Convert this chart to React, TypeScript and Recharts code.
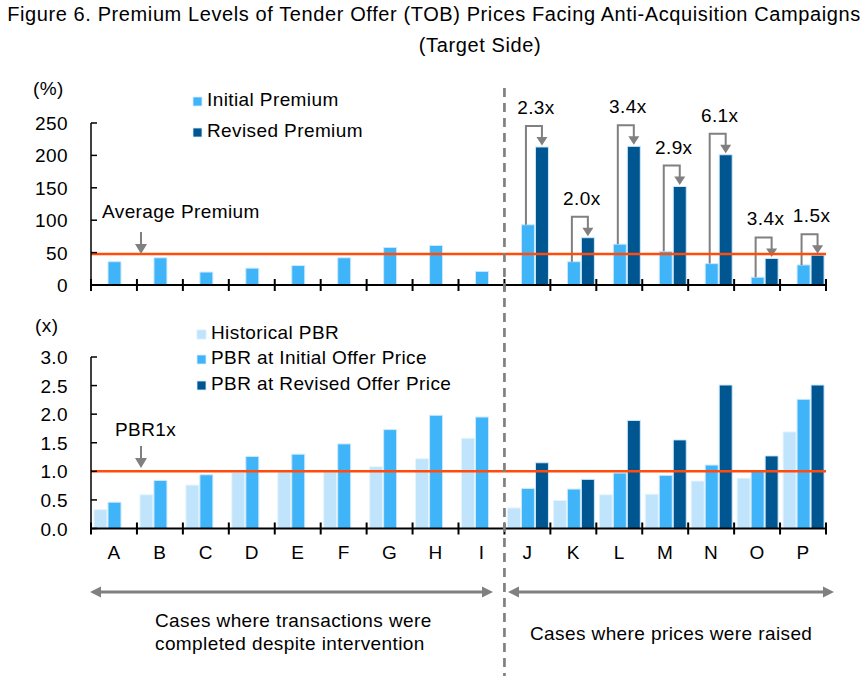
import { BarChart, Bar, XAxis, YAxis, ReferenceLine } from "recharts"

const categories = ["A", "B", "C", "D", "E", "F", "G", "H", "I", "J", "K", "L", "M", "N", "O", "P"]

// premium over market price (%)
const initialPremium = [36, 42, 20, 26, 30, 42, 58, 61, 21, 93, 36, 63, 52, 33, 12, 31]
const revisedPremium = [null, null, null, null, null, null, null, null, null, 213, 73, 214, 152, 201, 41, 46]
const averagePremium = 48

// price-to-book ratio (x)
const historicalPbr = [0.33, 0.59, 0.76, 0.98, 0.99, 0.99, 1.08, 1.22, 1.58, 0.36, 0.49, 0.59, 0.6, 0.83, 0.88, 1.69]
const initialPbr = [0.46, 0.84, 0.94, 1.26, 1.3, 1.48, 1.73, 1.98, 1.95, 0.7, 0.69, 0.97, 0.93, 1.11, 1.0, 2.26]
const revisedPbr = [null, null, null, null, null, null, null, null, null, 1.15, 0.86, 1.89, 1.55, 2.51, 1.27, 2.51]
const pbrBase = 1

const premiumTicks = [0, 50, 100, 150, 200, 250]
const pbrTicks = [0, 0.5, 1, 1.5, 2, 2.5, 3]

const premiumData = categories.map((name, i) => ({
  name,
  initial: initialPremium[i],
  revised: revisedPremium[i],
}))

const pbrData = categories.map((name, i) => ({
  name,
  historical: historicalPbr[i],
  initial: initialPbr[i],
  revised: revisedPbr[i],
}))

const FONT = '"Liberation Sans", Arial, sans-serif'
const LIGHT = "#c0e4fb"
const MID = "#40b4f8"
const DARK = "#005691"
const ORANGE = "#ff4c0c"
const GREY = "#808080"

const PLOT_LEFT = 91
const PLOT_RIGHT = 826
const STEP = (PLOT_RIGHT - PLOT_LEFT) / categories.length
const BAR_GAP = 1
const SPLIT_X = PLOT_LEFT + 9 * STEP

const textStyle = { fontFamily: FONT, fontSize: 19, letterSpacing: 0.4, fill: "#000" }
const titleStyle = { ...textStyle, fontSize: 20, letterSpacing: 0.6 }

function CategoryTick(props: any) {
  const { x, y, payload, index, showLabel } = props
  const left = x - STEP / 2
  return (
    <g>
      <line x1={left} x2={left} y1={y - 6} y2={y + 6} stroke="#000" strokeWidth={2} />
      {index === categories.length - 1 && (
        <line x1={x + STEP / 2} x2={x + STEP / 2} y1={y - 6} y2={y + 6} stroke="#000" strokeWidth={2} />
      )}
      {showLabel && (
        <text x={x} y={y + 30} textAnchor="middle" style={textStyle}>
          {payload.value}
        </text>
      )}
    </g>
  )
}

function ValueTick(props: any) {
  const { x, y, payload, digits } = props
  return (
    <g>
      <line x1={x} x2={x + 6} y1={y} y2={y} stroke="#000" strokeWidth={1.5} />
      <text x={x - 23} y={y + 7} textAnchor="end" style={textStyle}>
        {digits ? Number(payload.value).toFixed(digits) : payload.value}
      </text>
    </g>
  )
}

// revised bar plus the bracket arrow from the initial bar and the multiple label
function RevisedBar(props: any) {
  const { x, y, width, height, payload } = props
  if (payload.revised == null || !height) return null
  const bottom = y + height
  const initTop = bottom - (height * payload.initial) / payload.revised
  const fromX = x - BAR_GAP - width / 2 - 2
  const toX = x + width / 2
  const top = y - 21
  const multiple = (payload.revised / payload.initial).toFixed(1) + "x"
  return (
    <g>
      <rect x={x} y={y} width={width} height={height} fill={DARK} stroke="#cfe9fb" strokeWidth={1} />
      <polyline
        points={`${fromX},${initTop} ${fromX},${top} ${toX},${top} ${toX},${y - 9}`}
        fill="none"
        stroke={GREY}
        strokeWidth={2}
      />
      <polygon points={`${toX - 5.5},${y - 10} ${toX + 5.5},${y - 10} ${toX},${y - 1.5}`} fill={GREY} />
      <text x={(fromX + toX) / 2 + 2} y={top - 12} textAnchor="middle" style={textStyle}>
        {multiple}
      </text>
    </g>
  )
}

function DownArrow({ x, y1, y2 }: { x: number; y1: number; y2: number }) {
  return (
    <g>
      <line x1={x} x2={x} y1={y1} y2={y2 - 8} stroke={GREY} strokeWidth={2} />
      <polygon points={`${x - 6},${y2 - 10} ${x + 6},${y2 - 10} ${x},${y2}`} fill={GREY} />
    </g>
  )
}

function DoubleArrow({ x1, x2, y }: { x1: number; x2: number; y: number }) {
  return (
    <g>
      <line x1={x1 + 8} x2={x2 - 8} y1={y} y2={y} stroke={GREY} strokeWidth={3} />
      <polygon points={`${x1},${y} ${x1 + 11},${y - 5.5} ${x1 + 11},${y + 5.5}`} fill={GREY} />
      <polygon points={`${x2},${y} ${x2 - 11},${y - 5.5} ${x2 - 11},${y + 5.5}`} fill={GREY} />
    </g>
  )
}

function LegendRow({ x, y, color, label }: { x: number; y: number; color: string; label: string }) {
  return (
    <g>
      <rect x={x} y={y - 9} width={9} height={9} fill={color} stroke="#d8eefc" strokeWidth={0.8} />
      <text x={x + 14} y={y} style={textStyle}>
        {label}
      </text>
    </g>
  )
}

export default function App() {
  return (
    <div style={{ position: "absolute", left: 0, top: 0, width: 866, height: 682, background: "#fff" }}>
      <div style={{ position: "absolute", left: 0, top: 0 }}>
        <BarChart
          width={866}
          height={300}
          data={premiumData}
          margin={{ top: 123, right: 40, left: 31, bottom: 5 }}
          barGap={BAR_GAP}
          barCategoryGap={3}
        >
          <XAxis
            dataKey="name"
            height={10}
            interval={0}
            tickLine={false}
            tickSize={0}
            tickMargin={0}
            axisLine={{ stroke: "#000", strokeWidth: 2 }}
            tick={(p: any) => <CategoryTick {...p} showLabel={false} />}
          />
          <YAxis
            width={60}
            domain={[0, 250]}
            ticks={premiumTicks}
            interval={0}
            tickLine={false}
            tickSize={0}
            tickMargin={0}
            axisLine={{ stroke: "#000", strokeWidth: 1.5 }}
            tick={(p: any) => <ValueTick {...p} />}
          />
          <Bar dataKey="spacer" fill={LIGHT} isAnimationActive={false} />
          <Bar dataKey="initial" fill={MID} stroke="#cfe9fb" strokeWidth={1} isAnimationActive={false} />
          <Bar dataKey="revised" fill={DARK} shape={(p: any) => <RevisedBar {...p} />} isAnimationActive={false} />
          <ReferenceLine y={averagePremium} stroke={ORANGE} strokeWidth={2.5} />
        </BarChart>
      </div>

      <div style={{ position: "absolute", left: 0, top: 300 }}>
        <BarChart
          width={866}
          height={382}
          data={pbrData}
          margin={{ top: 57, right: 40, left: 31, bottom: 123.5 }}
          barGap={BAR_GAP}
          barCategoryGap={3}
        >
          <XAxis
            dataKey="name"
            height={30}
            interval={0}
            tickLine={false}
            tickSize={0}
            tickMargin={0}
            axisLine={{ stroke: "#000", strokeWidth: 2 }}
            tick={(p: any) => <CategoryTick {...p} showLabel />}
          />
          <YAxis
            width={60}
            domain={[0, 3]}
            ticks={pbrTicks}
            interval={0}
            tickLine={false}
            tickSize={0}
            tickMargin={0}
            axisLine={{ stroke: "#000", strokeWidth: 1.5 }}
            tick={(p: any) => <ValueTick {...p} digits={1} />}
          />
          <Bar dataKey="historical" fill={LIGHT} stroke="#e6f4fd" strokeWidth={1} isAnimationActive={false} />
          <Bar dataKey="initial" fill={MID} stroke="#cfe9fb" strokeWidth={1} isAnimationActive={false} />
          <Bar dataKey="revised" fill={DARK} stroke="#cfe9fb" strokeWidth={1} isAnimationActive={false} />
          <ReferenceLine y={pbrBase} stroke={ORANGE} strokeWidth={2.5} />
        </BarChart>
      </div>

      <svg
        width={866}
        height={682}
        style={{ position: "absolute", left: 0, top: 0, pointerEvents: "none" }}
      >
        <text x={434} y={21} textAnchor="middle" style={titleStyle}>
          Figure 6. Premium Levels of Tender Offer (TOB) Prices Facing Anti-Acquisition Campaigns
        </text>
        <text x={480} y={52} textAnchor="middle" style={titleStyle}>
          (Target Side)
        </text>

        <text x={33} y={95} style={textStyle}>(%)</text>
        <text x={35} y={332} style={textStyle}>(x)</text>

        <LegendRow x={193} y={106} color={MID} label="Initial Premium" />
        <LegendRow x={193} y={137} color={DARK} label="Revised Premium" />

        <LegendRow x={197} y={339} color={LIGHT} label="Historical PBR" />
        <LegendRow x={197} y={364} color={MID} label="PBR at Initial Offer Price" />
        <LegendRow x={197} y={390} color={DARK} label="PBR at Revised Offer Price" />

        <text x={102} y={218} style={textStyle}>Average Premium</text>
        <DownArrow x={141} y1={232} y2={254} />
        <text x={115} y={436} style={textStyle}>PBR1x</text>
        <DownArrow x={141} y1={446} y2={468} />

        <line x1={SPLIT_X} x2={SPLIT_X} y1={88} y2={676} stroke={GREY} strokeWidth={2.7} strokeDasharray="9 6" />

        <DoubleArrow x1={90} x2={493} y={592} />
        <DoubleArrow x1={508} x2={834} y={592} />

        <text x={155} y={627} style={textStyle}>Cases where transactions were</text>
        <text x={155} y={650} style={textStyle}>completed despite intervention</text>
        <text x={530} y={640} style={textStyle}>Cases where prices were raised</text>
      </svg>
    </div>
  )
}
